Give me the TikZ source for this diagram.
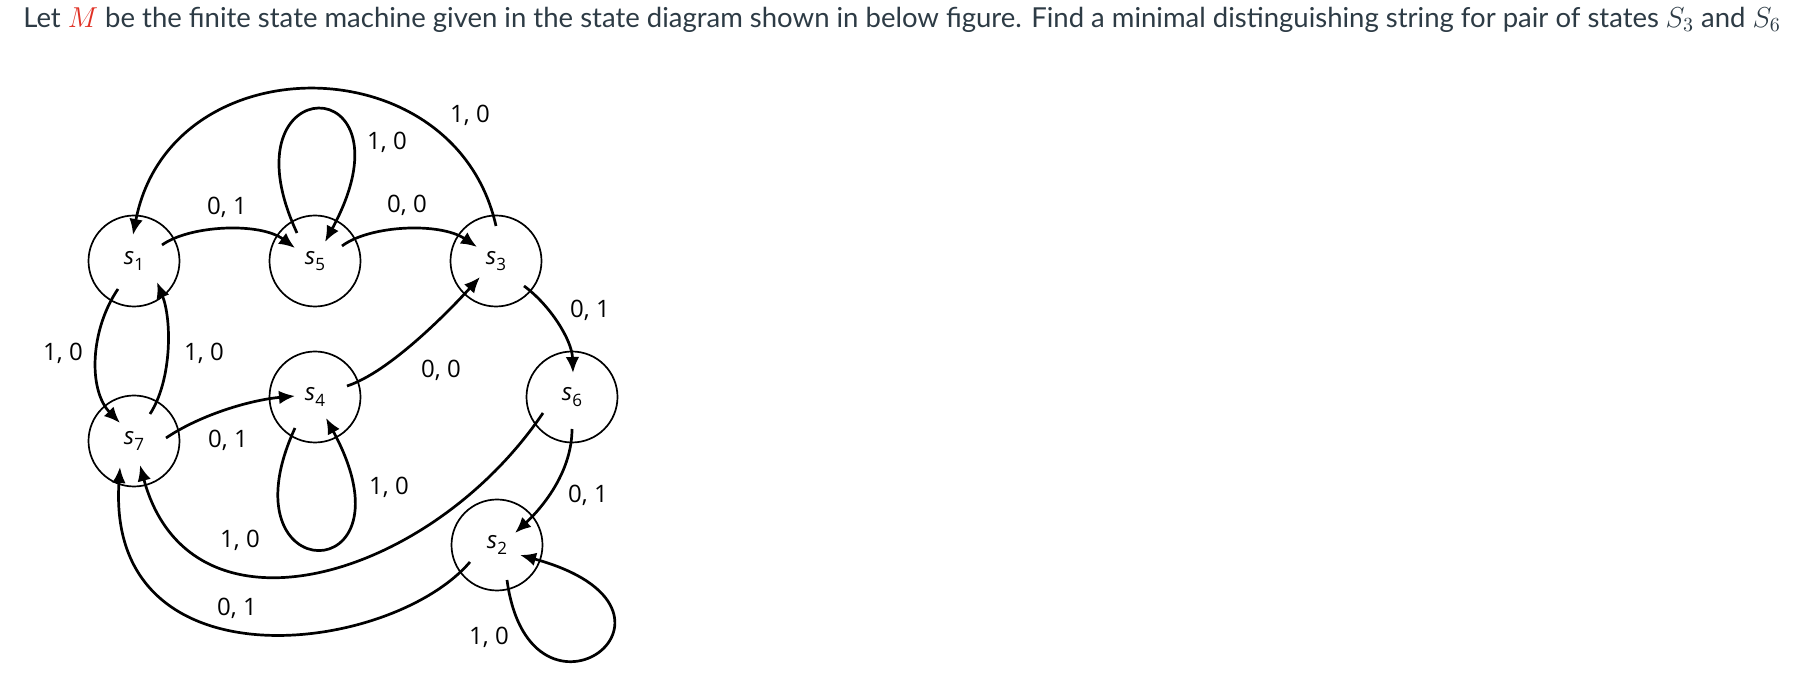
\documentclass[tikz,border=0pt]{standalone}
\usepackage{fontspec}
\setmainfont{Lato}
\newfontfamily\diagfont{Open Sans}
\usetikzlibrary{arrows.meta}
\definecolor{titlecol}{RGB}{45,59,69}
\definecolor{mred}{RGB}{224,48,36}
\newcommand{\stname}[1]{{\itshape s}\raisebox{-3.3pt}{\fontsize{8.5}{8.5}\selectfont #1}}
\begin{document}
\begin{tikzpicture}[x=0.5pt,y=-0.5pt,
  state/.style={draw,circle,line width=0.85pt,minimum size=45.5pt,inner sep=0pt,font=\diagfont\fontsize{12}{12}\selectfont},
  edge/.style={line width=1.35pt,-{Latex[length=8pt,width=6.8pt]}},
  lbl/.style={inner sep=0pt,text height=8.6pt,text depth=0pt,font=\diagfont\fontsize{12}{12}\selectfont}]
\fill[white] (0,0) rectangle (1800,699);
\useasboundingbox (0,0) rectangle (1800,699);

\node[anchor=base west,inner sep=0pt,text=titlecol,font=\fontsize{13.75}{17}\selectfont] (title) at (23,27.3)
  {Let {\color{mred}$M$} be the finite state machine given in the state diagram shown in below figure. Find a minimal distinguishing string for pair of states $S_3$ and $S_6$};

\node[state] (s1) at (134,261) {\stname{1}};
\node[state] (s5) at (315,261) {\stname{5}};
\node[state] (s3) at (496,261) {\stname{3}};
\node[state] (s7) at (134,441) {\stname{7}};
\node[state] (s4) at (315,397) {\stname{4}};
\node[state] (s6) at (572,397) {\stname{6}};
\node[state] (s2) at (497,545) {\stname{2}};

% s1 -> s5
\draw[edge] ([shift={(28,-16)}]s1.center) .. controls (190,225) and (260,222) .. ([shift={(-20,-13)}]s5.center);
% s5 -> s3
\draw[edge] ([shift={(27,-15)}]s5.center) .. controls (370,225) and (440,222) .. ([shift={(-19,-14)}]s3.center);
% s3 -> s1
\draw[edge] ([shift={(0,-35)}]s3.center) .. controls (455,43) and (170,43) .. ([shift={(-1,-26)}]s1.center);
% s5 loop
\draw[edge] ([shift={(-18,-28)}]s5.center) .. controls (220,67) and (420,67) .. ([shift={(10,-19)}]s5.center);
% s1 -> s7
\draw[edge] ([shift={(-16,28)}]s1.center) .. controls (90,330) and (88,390) .. ([shift={(-14,-18)}]s7.center);
% s7 -> s1
\draw[edge] ([shift={(16,-27)}]s7.center) .. controls (172,380) and (172,320) .. ([shift={(23,21)}]s1.center);
% s7 -> s4
\draw[edge] ([shift={(32,-3)}]s7.center) .. controls (200,415) and (250,400) .. ([shift={(-20,-1)}]s4.center);
% s4 -> s3
\draw[edge] ([shift={(32,-11)}]s4.center) .. controls (390,372) and (450,310) .. ([shift={(-16,16)}]s3.center);
% s3 -> s6
\draw[edge] ([shift={(28,25)}]s3.center) .. controls (550,305) and (572,340) .. ([shift={(1,-24)}]s6.center);
% s4 loop
\draw[edge] ([shift={(-20,31)}]s4.center) .. controls (220,591) and (420,591) .. ([shift={(11,21)}]s4.center);
% s6 -> s7
\draw[edge] ([shift={(-29,16)}]s6.center) .. controls (430,580) and (190,650) .. ([shift={(6,24)}]s7.center);
% s2 -> s7
\draw[edge] ([shift={(-27,17)}]s2.center) .. controls (390,655) and (105,690) .. ([shift={(-14,26)}]s7.center);
% s6 -> s2
\draw[edge] ([shift={(0,32)}]s6.center) .. controls (572,470) and (545,505) .. ([shift={(18,-12)}]s2.center);
% s2 loop
\draw[edge] ([shift={(10,35)}]s2.center) .. controls (530,750) and (720,610) .. ([shift={(23,10)}]s2.center);

% labels
\node[lbl] (l1) at (227,206) {0, 1};
\node[lbl] (l2) at (63,352) {1, 0};
\node[lbl] (l3) at (204,352) {1, 0};
\node[lbl] (l4) at (470,114) {1, 0};
\node[lbl] (l5) at (387,141) {1, 0};
\node[lbl] (l6) at (407,204) {0, 0};
\node[lbl] (l7) at (590,309) {0, 1};
\node[lbl] (l8) at (441,369) {0, 0};
\node[lbl] (l9) at (228,439) {0, 1};
\node[lbl] (l10) at (240,539) {1, 0};
\node[lbl] (l11) at (237,607) {0, 1};
\node[lbl] (l12) at (389,486) {1, 0};
\node[lbl] (l13) at (588,494) {0, 1};
\node[lbl] (l14) at (489,636) {1, 0};
\end{tikzpicture}
\end{document}
